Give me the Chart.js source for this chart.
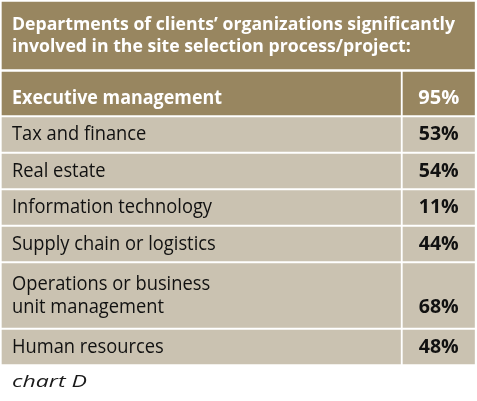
<!DOCTYPE html>
<html>
<head>
<meta charset="utf-8">
<script src="https://cdn.jsdelivr.net/npm/chart.js@4/dist/chart.umd.min.js"></script>
<style>
  html, body { margin: 0; padding: 0; background: #ffffff; }
  #wrap { width: 477px; height: 401px; }
</style>
</head>
<body>
<div id="wrap"><canvas id="c" width="477" height="401"></canvas></div>
<script>
// ---------------- DATA ----------------
const titleLines = [
  "Departments of clients\u2019 organizations significantly",
  "involved in the site selection process/project:"
];
const categories = [
  ["Executive management"],
  ["Tax and finance"],
  ["Real estate"],
  ["Information technology"],
  ["Supply chain or logistics"],
  ["Operations or business", "unit management"],
  ["Human resources"]
];
const values = [95, 53, 54, 11, 44, 68, 48];
const valueSuffix = "%";
const footnote = "chart D";

// ---------------- STYLE / LAYOUT ----------------
const W = 477, H = 401;
const DARK = "#988660";
const LIGHT = "#CAC2B1";
const L = {
  left: 2, right: 474.5, divider: 400.5, colGap: 2.5,
  headTop: 2, headH: 67, headGap: 3,
  firstRowH: 43, rowH: 34, extraLineH: 30, rowGap: 2.5,
  textX: 12, capH: 14, lineH: 23,
  titleCapH: 12, titleLineH: 21.7,
  footBaseline: 387
};
const FONT = "'Open Sans', Lato, 'DejaVu Sans', sans-serif";
const roles = {
  title:    { font: "bold 17px " + FONT, color: "#ffffff", ref: titleLines[0], target: 443 },
  execLab:  { font: "bold 20px " + FONT, color: "#ffffff", ref: "Executive management", target: 210 },
  execVal:  { font: "bold 20px " + FONT, color: "#ffffff", ref: "95%", target: 41 },
  label:    { font: "20px " + FONT, color: "#111111", ref: "Information technology", target: 200 },
  value:    { font: "bold 20px " + FONT, color: "#111111", ref: "53%", target: 40 },
  foot:     { font: "italic 16px " + FONT, color: "#1a1a1a", ref: "chart D", target: 75 }
};

// ---------------- BUILD ROW GEOMETRY (value units = pixels) ----------------
const rowGeom = [];
let rowTop = L.headTop + L.headH + L.headGap;
categories.forEach((lines, i) => {
  const h = (i === 0 ? L.firstRowH : L.rowH) + (lines.length - 1) * L.extraLineH;
  rowGeom.push({ center: rowTop + h / 2, h });
  rowTop += h + L.rowGap;
});

const datasets = [];
datasets.push({
  label: "header",
  data: [{ y: L.headTop + L.headH / 2, x: [L.left, L.right] }],
  barThickness: L.headH,
  backgroundColor: DARK,
  stack: "all",
  borderWidth: 0
});
rowGeom.forEach((r, i) => {
  datasets.push({
    label: categories[i].join(" "),
    data: [
      { y: r.center, x: [L.left, L.divider] },
      { y: r.center, x: [L.divider + L.colGap, L.right] }
    ],
    barThickness: r.h,
    backgroundColor: i === 0 ? DARK : LIGHT,
    stack: "all",
    borderWidth: 0
  });
});

function prepRoles(ctx) {
  for (const k in roles) {
    const r = roles[k];
    ctx.font = r.font;
    r.sx = r.target / ctx.measureText(r.ref).width;
  }
}
function drawText(ctx, text, x, y, role, align) {
  ctx.save();
  ctx.font = role.font;
  ctx.fillStyle = role.color;
  ctx.textBaseline = "alphabetic";
  ctx.textAlign = "left";
  const w = ctx.measureText(text).width * role.sx;
  const x0 = align === "center" ? x - w / 2 : x;
  ctx.translate(x0, y);
  ctx.scale(role.sx, 1);
  ctx.fillText(text, 0, 0);
  ctx.restore();
}

const tableText = {
  id: "tableText",
  afterDatasetsDraw(chart) {
    const ctx = chart.ctx;
    prepRoles(ctx);
    const hb = chart.getDatasetMeta(0).data[0].getProps(["x", "y", "base", "height"], true);
    const tBlock = L.titleCapH + (titleLines.length - 1) * L.titleLineH;
    const tb = hb.y - 0.5 - tBlock / 2 + L.titleCapH;
    titleLines.forEach((t, k) => drawText(ctx, t, L.textX, tb + k * L.titleLineH, roles.title, "left"));
    categories.forEach((lines, i) => {
      const meta = chart.getDatasetMeta(i + 1);
      const lab = meta.data[0].getProps(["x", "y", "base", "height"], true);
      const val = meta.data[1].getProps(["x", "y", "base", "height"], true);
      const block = L.capH + (lines.length - 1) * L.lineH;
      const shift = i === 0 ? 3.5 : -1.5;
      const first = lab.y + shift - block / 2 + L.capH;
      const labRole = i === 0 ? roles.execLab : roles.label;
      const valRole = i === 0 ? roles.execVal : roles.value;
      lines.forEach((t, k) => drawText(ctx, t, Math.min(lab.x, lab.base) + L.textX - L.left, first + k * L.lineH, labRole, "left"));
      const vx = (val.x + val.base) / 2;
      drawText(ctx, values[i] + valueSuffix, vx, first + (lines.length - 1) * L.lineH, valRole, "center");
    });
    drawText(ctx, footnote, L.textX, L.footBaseline, roles.foot, "left");
  }
};

new Chart(document.getElementById("c"), {
  type: "bar",
  data: { datasets },
  plugins: [tableText],
  options: {
    indexAxis: "y",
    responsive: false,
    animation: false,
    events: [],
    layout: { padding: 0 },
    scales: {
      x: { type: "linear", min: 0, max: W, stacked: false, display: false },
      y: { type: "linear", min: 0, max: H, reverse: true, offset: false, display: false, grid: { offset: false } }
    },
    plugins: { legend: { display: false }, tooltip: { enabled: false }, title: { display: false } }
  }
});
</script>
</body>
</html>
